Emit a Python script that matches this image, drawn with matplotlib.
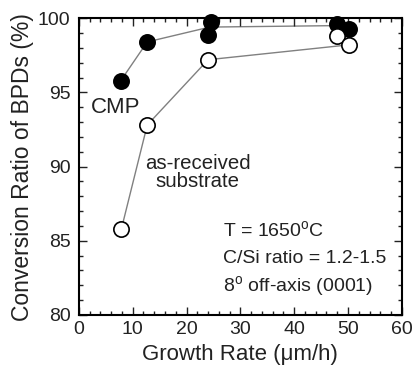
import matplotlib
matplotlib.use("Agg")
import matplotlib.pyplot as plt
from matplotlib.ticker import MultipleLocator

plt.rcParams['font.family'] = ['Liberation Sans', 'DejaVu Sans']

cmp_x = [7.8, 12.7, 24.0, 24.6, 48.0, 50.1]
cmp_y = [95.8, 98.4, 98.9, 99.75, 99.6, 99.3]
cmp_line_x = [7.8, 12.7, 24.3, 48.0, 50.1]
cmp_line_y = [95.8, 98.4, 99.4, 99.5, 99.3]

asr_x = [7.9, 12.7, 24.0, 48.0, 50.1]
asr_y = [85.8, 92.8, 97.2, 98.8, 98.2]
asr_line_x = [7.9, 12.7, 24.0, 50.1]
asr_line_y = [85.8, 92.8, 97.2, 98.2]

fig = plt.figure(figsize=(4.13, 3.71), dpi=100)
ax = fig.add_axes([0.191, 0.151, 0.782, 0.800])

ax.plot(cmp_line_x, cmp_line_y, color='#808080', lw=1.0, zorder=1)
ax.plot(asr_line_x, asr_line_y, color='#808080', lw=1.0, zorder=1)
ax.plot(cmp_x, cmp_y, 'o', ms=11, mfc='black', mec='black', mew=1.2, ls='none', zorder=3, clip_on=False)
ax.plot(asr_x, asr_y, 'o', ms=11, mfc='white', mec='black', mew=1.2, ls='none', zorder=3, clip_on=False)

ax.set_xlim(0, 60)
ax.set_ylim(80, 100)
ax.xaxis.set_major_locator(MultipleLocator(10))
ax.xaxis.set_minor_locator(MultipleLocator(2))
ax.yaxis.set_major_locator(MultipleLocator(5))
ax.yaxis.set_minor_locator(MultipleLocator(1))
ax.tick_params(which='both', direction='in', top=True, right=True, labelsize=14, width=1.0, colors='#222222', labelcolor='#222222')
ax.tick_params(which='major', length=6)
ax.tick_params(which='minor', length=3)
ax.tick_params(axis='x', which='major', pad=4)
ax.tick_params(axis='y', which='major', pad=6)
for s in ax.spines.values():
    s.set_linewidth(1.5)

ax.set_xlabel('Growth Rate (\u03bcm/h)', fontsize=16, labelpad=5, color='#222222')
ax.set_ylabel('Conversion Ratio of BPDs (%)', fontsize=16.5, labelpad=3, color='#222222')

ax.text(2.3, 94.0, 'CMP', fontsize=16, va='center', ha='left', color='#222222')
ax.text(22.1, 89.6, 'as-received\nsubstrate', fontsize=14.7, va='center', ha='center', linespacing=0.95, color='#222222')
ax.text(26.8, 85.7, 'T = 1650$^{\\mathregular{o}}$C', fontsize=14, va='center', ha='left', color='#222222')
ax.text(26.8, 83.8, 'C/Si ratio = 1.2-1.5', fontsize=14, va='center', ha='left', color='#222222')
ax.text(26.8, 81.9, '8$^{\\mathregular{o}}$ off-axis (0001)', fontsize=14, va='center', ha='left', color='#222222')

fig.savefig('out.png', dpi=100)
